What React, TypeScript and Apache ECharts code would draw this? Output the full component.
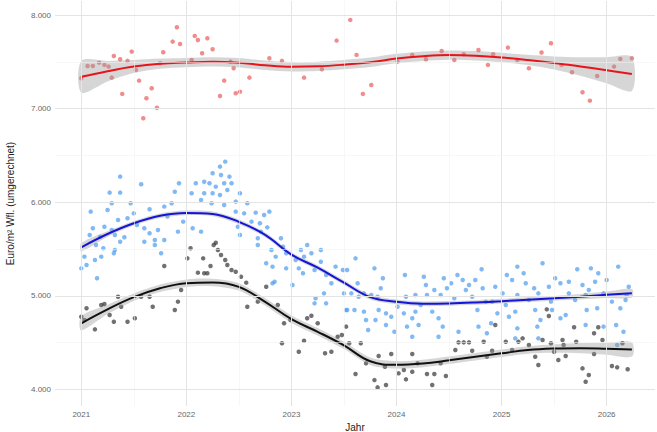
import React, { useEffect, useRef } from "react";
import * as echarts from "echarts";

// ---------- data ----------
const xTickYears = [2021, 2022, 2023, 2024, 2025, 2026];
const xMinorYears = [2021.5, 2022.5, 2023.5, 2024.5, 2025.5];
const yTickValues = [4000, 5000, 6000, 7000, 8000];
const yMinorValues = [4500, 5500, 6500, 7500];

const redPoints: [number, number][] = [
  [2021.0, 7325], [2021.06, 7456], [2021.11, 7456], [2021.17, 7491], [2021.22, 7467],
  [2021.26, 7449], [2021.29, 7331], [2021.31, 7563], [2021.37, 7528], [2021.39, 7157],
  [2021.44, 7510], [2021.48, 7609], [2021.52, 7413], [2021.55, 7299], [2021.59, 6897],
  [2021.62, 7111], [2021.67, 7218], [2021.72, 7010], [2021.75, 7485], [2021.78, 7603],
  [2021.87, 7716], [2021.91, 7870], [2021.94, 7691], [2022.05, 7520], [2022.08, 7777],
  [2022.11, 7734], [2022.15, 7592], [2022.2, 7752], [2022.25, 7635], [2022.32, 7135],
  [2022.36, 7299], [2022.42, 7502], [2022.45, 7431], [2022.47, 7164], [2022.51, 7181],
  [2022.6, 7331], [2022.79, 7538], [2022.91, 7510], [2023.12, 7331], [2023.29, 7421],
  [2023.43, 7727], [2023.56, 7948], [2023.62, 7574], [2023.68, 7157], [2023.76, 7253],
  [2024.01, 7502], [2024.15, 7574], [2024.28, 7528], [2024.43, 7616], [2024.55, 7520],
  [2024.64, 7581], [2024.78, 7627], [2024.87, 7467], [2024.92, 7581], [2025.06, 7652],
  [2025.15, 7520], [2025.26, 7431], [2025.38, 7599], [2025.47, 7699], [2025.57, 7467],
  [2025.67, 7389], [2025.77, 7175], [2025.84, 7085], [2025.91, 7349], [2026.07, 7449],
  [2026.13, 7531], [2026.24, 7538],
];

const bluePoints: [number, number][] = [
  [2021.37, 6273], [2021.57, 6192], [2021.27, 6102], [2021.37, 6102], [2021.29, 5988],
  [2021.47, 5988], [2021.09, 5899], [2021.25, 5917], [2021.5, 5881], [2021.65, 5924],
  [2021.35, 5810], [2021.44, 5828], [2021.11, 5721], [2021.22, 5738], [2021.29, 5703],
  [2021.53, 5756], [2021.6, 5721], [2021.08, 5650], [2021.18, 5631], [2021.32, 5650],
  [2021.41, 5625], [2021.65, 5668], [2021.14, 5543], [2021.37, 5578], [2021.7, 5596],
  [2021.21, 5507], [2021.32, 5489], [2021.03, 5418], [2021.13, 5382], [2021.19, 5418],
  [2021.0, 5293], [2021.05, 5329], [2021.15, 5187], [2021.31, 5454], [2021.76, 5454],
  [2021.79, 5953], [2021.86, 5988], [2021.89, 6112], [2021.93, 6202], [2021.82, 5846],
  [2021.97, 5792], [2022.05, 6095], [2022.09, 6202], [2022.14, 6024], [2022.06, 5721],
  [2022.14, 5685], [2021.92, 5685], [2021.73, 5703], [2021.79, 5596], [2021.6, 5578],
  [2021.7, 5543], [2022.17, 6219],
  [2022.37, 6433], [2022.32, 6380], [2022.25, 6309], [2022.33, 6291], [2022.41, 6273],
  [2022.22, 6202], [2022.28, 6166], [2022.36, 6202], [2022.43, 6202], [2022.25, 6095],
  [2022.32, 6077], [2022.39, 6130], [2022.51, 6095], [2022.17, 6095], [2022.24, 5988],
  [2022.36, 5970], [2022.47, 6006], [2022.58, 5988], [2022.47, 5899], [2022.55, 5881],
  [2022.66, 5888], [2022.74, 5863], [2022.79, 5899], [2022.62, 5792], [2022.7, 5775],
  [2022.49, 5738], [2022.77, 5731], [2022.51, 5650], [2022.68, 5614], [2022.71, 5685],
  [2022.9, 5614], [2022.68, 5543], [2022.81, 5489], [2022.92, 5524], [2022.85, 5418],
  [2022.95, 5454], [2022.76, 5347], [2022.82, 5311], [2022.95, 5293], [2023.04, 5382],
  [2023.09, 5489], [2023.15, 5543], [2023.19, 5454], [2023.12, 5418], [2023.07, 5293],
  [2023.11, 5240], [2023.01, 5115], [2022.82, 5133], [2022.84, 5150], [2023.28, 5489],
  [2023.28, 5364], [2023.22, 5275], [2023.33, 5222], [2023.38, 5133], [2023.42, 5311],
  [2023.49, 5275], [2023.31, 5026], [2023.22, 4919], [2023.23, 4973], [2023.5, 5026],
  [2023.52, 4848], [2023.33, 4919],
  [2023.61, 5400], [2023.53, 5275], [2023.63, 5133], [2023.57, 5026], [2023.64, 4990],
  [2023.53, 4848], [2023.6, 4848], [2023.69, 4830], [2023.79, 5293], [2023.87, 5187],
  [2023.85, 5080], [2023.82, 4990], [2023.76, 5008], [2023.71, 4741], [2023.73, 4634],
  [2023.8, 4741], [2023.83, 4848], [2023.9, 4812], [2023.9, 4687], [2023.95, 4776],
  [2023.98, 4616], [2024.01, 4883], [2024.08, 5222], [2024.09, 4990], [2024.1, 4670],
  [2024.15, 4562], [2024.15, 4759], [2024.18, 4830], [2024.23, 4901], [2024.21, 4687],
  [2024.26, 5204], [2024.28, 5115], [2024.29, 5008], [2024.34, 4830], [2024.36, 5062],
  [2024.42, 5008], [2024.4, 4759], [2024.44, 4670], [2024.4, 4562], [2024.45, 5187],
  [2024.48, 5080], [2024.52, 5133], [2024.55, 4973], [2024.58, 5222], [2024.59, 4616],
  [2024.63, 5168], [2024.66, 5062], [2024.69, 5115], [2024.72, 4990], [2024.75, 5168],
  [2024.77, 4848], [2024.78, 4670], [2024.81, 5283], [2024.82, 5080], [2024.85, 4937],
  [2024.86, 4599], [2024.9, 4706], [2023.69, 5026], [2024.07, 4812], [2024.18, 5008],
  [2025.15, 5311], [2025.39, 5347], [2025.72, 5283], [2025.85, 5293], [2026.11, 5311],
  [2025.05, 5222], [2025.21, 5240], [2025.1, 5168], [2025.92, 5240], [2026.0, 5168],
  [2025.51, 5187], [2025.64, 5150], [2024.94, 5097], [2025.23, 5133], [2025.31, 5080],
  [2025.45, 5097], [2025.56, 5133], [2025.77, 5115], [2025.83, 5062], [2025.89, 5150],
  [2026.21, 5097], [2025.01, 5026], [2025.15, 5008], [2025.35, 5026], [2025.64, 5026],
  [2025.8, 5008], [2025.97, 5026], [2024.91, 4937], [2025.04, 4901], [2025.26, 4955],
  [2025.47, 4937], [2025.7, 4955], [2025.91, 4866], [2026.05, 4937], [2026.18, 4955],
  [2024.96, 4812], [2025.13, 4830], [2025.32, 4848], [2025.48, 4848], [2025.61, 4794],
  [2025.81, 4848], [2026.13, 4866], [2025.07, 4776], [2025.37, 4741], [2025.56, 4759],
  [2025.15, 4652], [2025.34, 4670], [2025.8, 4687], [2025.97, 4670], [2026.09, 4687],
  [2026.16, 4616], [2025.13, 4545], [2025.35, 4545], [2026.1, 4474], [2026.19, 5008],
];

const blackPoints: [number, number][] = [
  [2022.04, 5507], [2022.01, 5400], [2022.16, 5400], [2021.79, 5318], [2022.11, 5247],
  [2022.17, 5240], [2021.95, 5062], [2021.92, 4937], [2021.89, 4848], [2021.68, 4883],
  [2021.65, 4990], [2021.57, 4990], [2021.35, 4990], [2021.38, 4883], [2021.19, 4901],
  [2021.22, 4912], [2021.27, 4794], [2021.05, 4866], [2021.0, 4776], [2021.03, 4741],
  [2021.31, 4723], [2021.44, 4723], [2021.51, 4759], [2021.13, 4641],
  [2022.28, 5567], [2022.26, 5543], [2022.3, 5489], [2022.33, 5436], [2022.37, 5382],
  [2022.39, 5329], [2022.43, 5275], [2022.47, 5257], [2022.52, 5204], [2022.57, 5140],
  [2022.23, 5318], [2022.2, 5240], [2022.58, 4883], [2022.68, 4937], [2022.76, 5097],
  [2022.87, 4901], [2022.93, 4706], [2022.91, 4492], [2022.99, 4741], [2023.07, 4402],
  [2023.12, 4520], [2023.15, 4759], [2023.19, 4787], [2023.25, 4706], [2023.32, 4385],
  [2023.38, 4402], [2023.44, 4562], [2023.48, 4580], [2023.52, 4670],
  [2023.55, 4492], [2023.66, 4492], [2023.61, 4164], [2023.79, 4099], [2023.82, 4021],
  [2023.9, 4046], [2023.83, 4356], [2023.95, 4377], [2023.89, 4242], [2024.02, 4171],
  [2024.09, 4107], [2024.07, 4206], [2024.15, 4377], [2024.15, 4188], [2024.29, 4164],
  [2024.36, 4164], [2024.34, 4046], [2024.47, 4142], [2024.42, 4278], [2024.56, 4420],
  [2024.59, 4502], [2024.64, 4502], [2024.69, 4502], [2024.72, 4413], [2024.83, 4509],
  [2024.86, 4349], [2024.91, 4413], [2024.2, 4278], [2023.71, 4278],
  [2024.94, 4687], [2025.43, 4855], [2025.45, 4784], [2025.2, 4545], [2025.16, 4509],
  [2025.04, 4509], [2025.26, 4474], [2025.39, 4527], [2025.47, 4492], [2025.58, 4527],
  [2025.59, 4474], [2025.71, 4509], [2025.69, 4663], [2025.88, 4599], [2025.92, 4663],
  [2025.96, 4527], [2026.15, 4492], [2025.1, 4420], [2025.32, 4349], [2025.5, 4402],
  [2025.61, 4356], [2025.54, 4313], [2025.35, 4260], [2025.88, 4377], [2025.77, 4224],
  [2025.83, 4153], [2025.8, 4081], [2026.05, 4249], [2026.1, 4235], [2026.2, 4214],
];

// smoothed fits (loess) with confidence half-widths
const fitYears = [
  2021.0, 2021.25, 2021.5, 2021.75, 2022.0, 2022.25, 2022.5, 2022.75, 2023.0, 2023.25, 2023.5,
  2023.75, 2024.0, 2024.25, 2024.5, 2024.75, 2025.0, 2025.25, 2025.5, 2025.75, 2026.0, 2026.24,
];
const redFit = [7340, 7400, 7450, 7480, 7492, 7500, 7490, 7463, 7447, 7452, 7470, 7495, 7535, 7560, 7572, 7565, 7547, 7520, 7488, 7450, 7410, 7369];
const redHalf = [170, 110, 70, 55, 50, 50, 50, 50, 50, 50, 50, 50, 50, 50, 50, 50, 50, 55, 70, 100, 140, 180];
const blueFit = [5518, 5660, 5775, 5855, 5885, 5875, 5790, 5650, 5440, 5300, 5140, 4985, 4935, 4915, 4918, 4928, 4942, 4958, 4973, 4990, 5010, 5026];
const blueHalf = [45, 30, 25, 25, 25, 25, 25, 25, 25, 25, 25, 25, 25, 25, 25, 25, 25, 25, 25, 30, 35, 45];
const blackFit = [4706, 4855, 4985, 5080, 5135, 5142, 5095, 4935, 4750, 4615, 4470, 4300, 4262, 4276, 4310, 4348, 4385, 4420, 4436, 4440, 4434, 4426];
const blackHalf = [75, 50, 40, 40, 40, 40, 40, 40, 40, 40, 40, 40, 40, 40, 40, 40, 40, 40, 45, 55, 65, 75];

const FONT = "'Liberation Sans', Arial, sans-serif";

function bandSeries(fit: number[], half: number[]) {
  const upper = fitYears.map((x, i) => [x, fit[i] + half[i]]);
  const lower = fitYears.map((x, i) => [x, fit[i] - half[i]]);
  return {
    type: "custom",
    silent: true,
    z: 3,
    data: [[fitYears[10], fit[10]]],
    renderItem: (params: any, api: any) => {
      const pts = [
        ...upper.map((p) => api.coord(p)),
        ...lower.slice().reverse().map((p) => api.coord(p)),
      ];
      return {
        type: "polygon",
        shape: { points: pts, smooth: 0.3 },
        style: { fill: "rgba(153,153,153,0.4)", stroke: "none" },
      };
    },
  };
}

function lineSeries(fit: number[], color: string) {
  return {
    type: "line",
    silent: true,
    z: 4,
    symbol: "none",
    smooth: 0.4,
    data: fitYears.map((x, i) => [x, fit[i]]),
    lineStyle: { color, width: 2 },
  };
}

function pointSeries(data: [number, number][], color: string) {
  return {
    type: "scatter",
    z: 2,
    symbolSize: 4.5,
    data,
    itemStyle: { color },
  };
}

const fmt = (v: number) => String(v).replace(/\B(?=(\d{3})+(?!\d))/g, ".");

export default function App() {
  const ref = useRef<HTMLDivElement>(null);
  useEffect(() => {
    document.body.style.margin = "0";
    const chart = echarts.init(ref.current!, undefined, { renderer: "svg" });
    const major = { color: "#e4e4e4", width: 1, type: "solid" };
    const minor = { color: "#f1f1f1", width: 0.6, type: "solid" };
    const gridLines = [
      ...xTickYears.map((v) => ({ xAxis: v, lineStyle: major })),
      ...xMinorYears.map((v) => ({ xAxis: v, lineStyle: minor })),
      ...yTickValues.map((v) => ({ yAxis: v, lineStyle: major })),
      ...yMinorValues.map((v) => ({ yAxis: v, lineStyle: minor })),
    ];
    chart.setOption({
      animation: false,
      backgroundColor: "#ffffff",
      textStyle: { fontFamily: FONT },
      grid: {
        left: 55,
        right: 2,
        top: 1,
        bottom: 26,
        containLabel: false,
        outerBoundsMode: "none",
      },
      xAxis: {
        type: "value",
        min: 2020.75,
        max: 2026.46,
        name: "Jahr",
        nameLocation: "middle",
        nameGap: 13,
        nameTextStyle: { fontSize: 10, color: "#222", fontFamily: FONT },
        axisLine: { show: false },
        axisTick: { show: false },
        splitLine: { show: false },
        axisLabel: {
          customValues: xTickYears,
          formatter: (v: number) => String(Math.round(v)),
          fontSize: 8,
          color: "#666",
          margin: 4,
          fontFamily: FONT,
        },
      },
      yAxis: {
        type: "value",
        min: 3822,
        max: 8150,
        name: "Euro/m² Wfl. (umgerechnet)",
        nameLocation: "middle",
        nameRotate: 90,
        nameGap: 40,
        nameTextStyle: { fontSize: 10, color: "#222", fontFamily: FONT },
        axisLine: { show: false },
        axisTick: { show: false },
        splitLine: { show: false },
        axisLabel: {
          customValues: yTickValues,
          formatter: (v: number) => fmt(Math.round(v)),
          fontSize: 8,
          color: "#666",
          margin: 4,
          fontFamily: FONT,
        },
      },
      series: [
        {
          type: "line",
          data: [],
          z: 0,
          silent: true,
          markLine: {
            silent: true,
            symbol: "none",
            label: { show: false },
            animation: false,
            data: gridLines,
          },
        },
        pointSeries(redPoints, "rgba(228,50,50,0.7)"),
        pointSeries(bluePoints, "rgba(80,158,240,0.9)"),
        pointSeries(blackPoints, "rgba(45,45,45,0.85)"),
        bandSeries(redFit, redHalf),
        bandSeries(blueFit, blueHalf),
        bandSeries(blackFit, blackHalf),
        lineSeries(redFit, "#e8141c"),
        lineSeries(blueFit, "#1515d8"),
        lineSeries(blackFit, "#111111"),
      ],
    });
    return () => chart.dispose();
  }, []);
  return (
    <div
      ref={ref}
      style={{ position: "fixed", left: 0, top: 0, width: 657, height: 432 }}
    />
  );
}
